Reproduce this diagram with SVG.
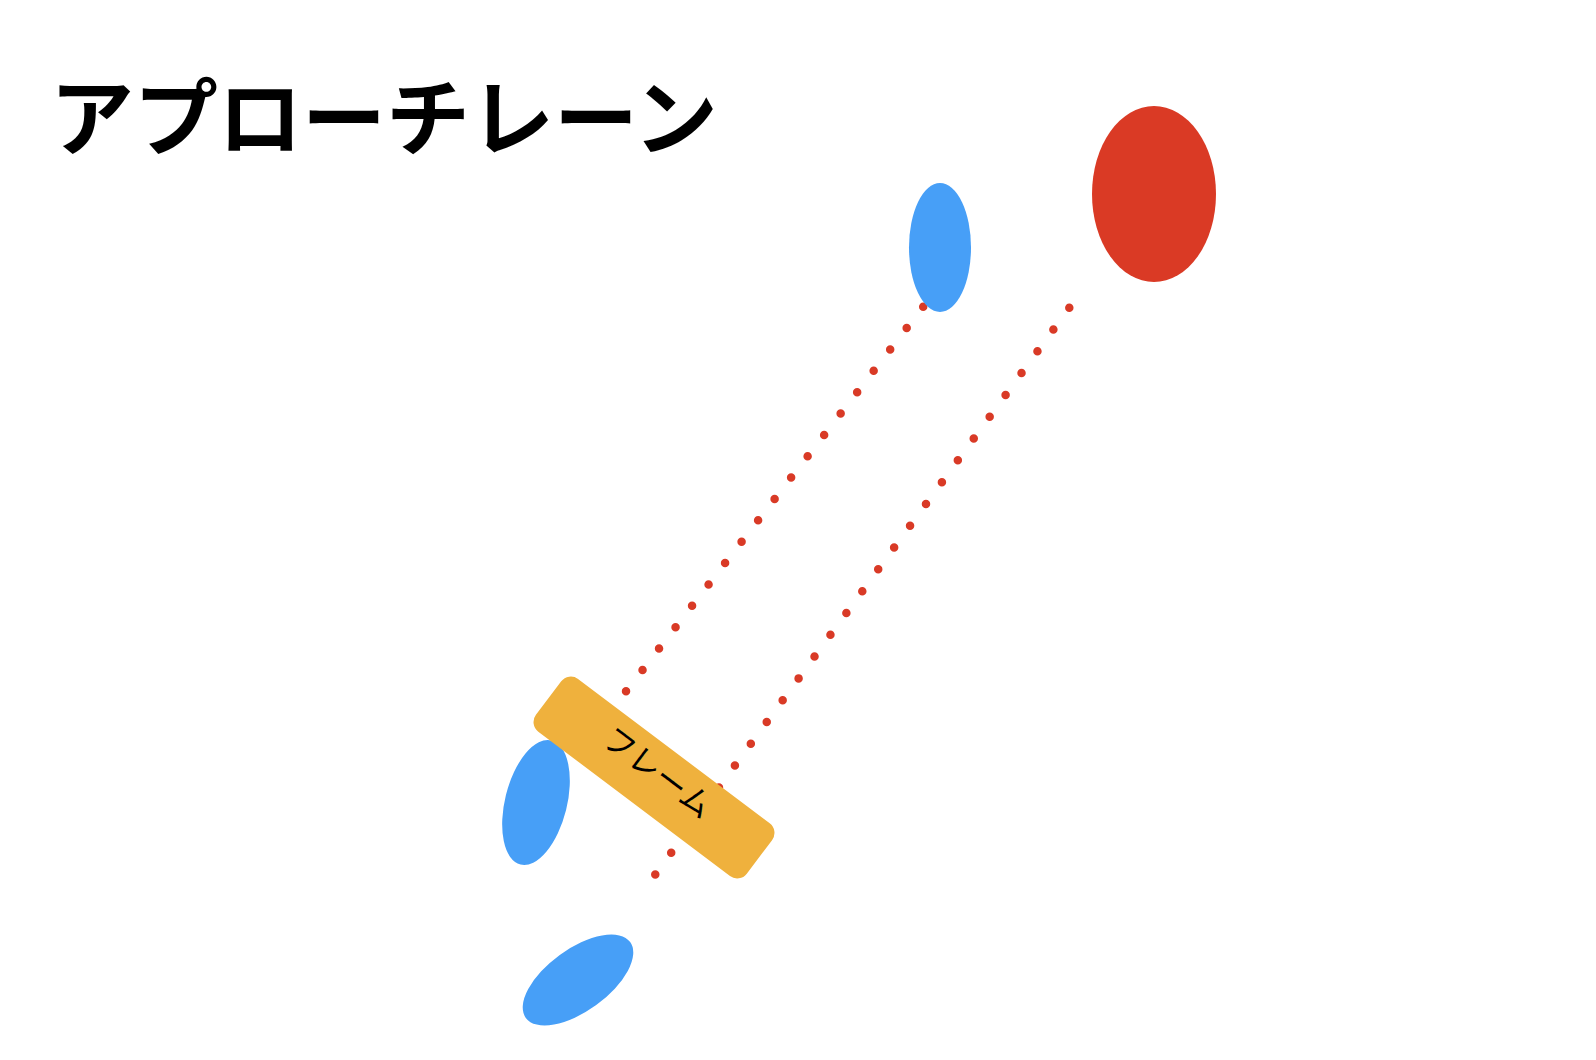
<svg xmlns="http://www.w3.org/2000/svg" width="1596" height="1060" viewBox="0 0 1596 1060">
<style>
.bg{fill:#ffffff}
.blue{fill:#479FF7}
.red{fill:#DA3A25}
.frame{fill:#EFB13D}
.dots{fill:none;stroke:#D93A26;stroke-width:8.5;stroke-linecap:round;stroke-dasharray:0 27}
.title{font-family:"Noto Sans CJK JP","Noto Sans CJK SC",sans-serif;font-weight:700;font-size:84px;fill:#000}
.label{font-family:"Noto Sans CJK JP","Noto Sans CJK SC",sans-serif;font-weight:400;font-size:32px;fill:#000}
</style>
<rect class="bg" x="0" y="0" width="1596" height="1060"/>
<g id="title"><text class="title" x="50" y="149">アプローチレーン</text></g>
<g id="connectors">
<path class="dots" d="M923.2,306.7 L626,691.3"/>
<path class="dots" d="M1069.3,307.7 L655,875"/>
</g>
<g id="target"><ellipse class="red" cx="1154" cy="194" rx="62" ry="88"/></g>
<g id="ball-top"><ellipse class="blue" cx="940" cy="247.5" rx="31" ry="64.5"/></g>
<g id="ball-mid"><ellipse class="blue" cx="536" cy="802.5" rx="31" ry="64" transform="rotate(14 536 802.5)"/></g>
<g id="ball-bottom"><ellipse class="blue" cx="578" cy="980" rx="31" ry="64.5" transform="rotate(54 578 980)"/></g>
<g id="frame" transform="translate(654 777.5) rotate(37)">
<rect class="frame" x="-132" y="-33" width="264" height="66" rx="12" ry="12"/>
<text class="label" x="0" y="5" text-anchor="middle">フレーム</text>
</g>
</svg>
